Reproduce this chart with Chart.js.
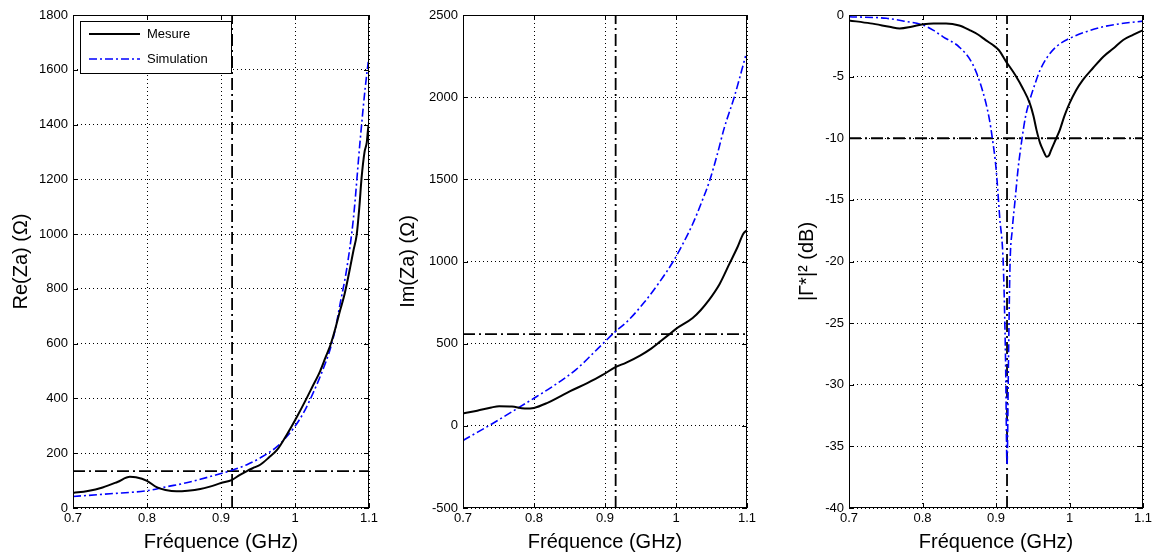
<!DOCTYPE html>
<html>
<head>
<meta charset="utf-8">
<script src="https://cdn.jsdelivr.net/npm/chart.js@4"></script>
<style>
  html, body { margin: 0; padding: 0; background: #fff; }
  #wrap { position: relative; width: 1157px; height: 558px; overflow: hidden; }
  .panel { position: absolute; top: 0; }
</style>
</head>
<body>
<div id="wrap">
  <canvas id="c-re"    class="panel" style="left:0px"   width="390" height="558"></canvas>
  <canvas id="c-im"    class="panel" style="left:390px" width="380" height="558"></canvas>
  <canvas id="c-gamma" class="panel" style="left:770px" width="387" height="558"></canvas>
</div>
<script>
'use strict';

// ── Data ───────────────────────────────────────────────────────────────────
const FREQ_TICKS  = [0.7, 0.8, 0.9, 1.0, 1.1];
const RE_TICKS    = [0, 200, 400, 600, 800, 1000, 1200, 1400, 1600, 1800];
const IM_TICKS    = [-500, 0, 500, 1000, 1500, 2000, 2500];
const GAMMA_TICKS = [-40, -35, -30, -25, -20, -15, -10, -5, 0];

const MARK_FREQ  = 0.915;   // vertical dash-dot line (GHz)
const RE_MARK    = 135;     // horizontal dash-dot lines
const IM_MARK    = 558;
const GAMMA_MARK = -10;

const SERIES_LABELS = ['Mesure', 'Simulation'];

// Re(Za) — mesure
const reMesFreq = [0.70, 0.72, 0.74, 0.76, 0.777, 0.785, 0.80, 0.813, 0.825, 0.84, 0.855, 0.872,
                   0.885, 0.90, 0.915, 0.925, 0.935, 0.945, 0.953, 0.965, 0.976, 0.985, 0.994,
                   1.003, 1.012, 1.023, 1.034, 1.041, 1.048, 1.055, 1.061, 1.066, 1.070, 1.075,
                   1.079, 1.0835, 1.087, 1.09, 1.094, 1.097, 1.099, 1.10];
const reMesVal  = [55, 62, 75, 95, 114, 112, 99, 76, 66, 61, 63, 69,
                   78, 91, 103, 120, 135, 148, 158, 185, 213, 250, 291,
                   335, 381, 440, 500, 548, 596, 660, 722, 770, 818, 885,
                   940, 1000, 1100, 1206, 1300, 1335, 1390, 1400];
// Re(Za) — simulation
const reSimFreq = [0.70, 0.75, 0.80, 0.827, 0.85, 0.872, 0.90, 0.915, 0.935, 0.953, 0.976, 0.998,
                   1.012, 1.025, 1.037, 1.048, 1.055, 1.061, 1.070, 1.079, 1.088, 1.095, 1.099];
const reSimVal  = [42, 52, 63, 78, 90, 105, 126, 138, 158, 183, 225, 291,
                   350, 423, 500, 584, 660, 746, 875, 1059, 1341, 1537, 1629];

// Im(Za) — mesure
const imMesFreq = [0.70, 0.72, 0.74, 0.751, 0.769, 0.787, 0.80, 0.819, 0.835, 0.851, 0.875, 0.896,
                   0.914, 0.93, 0.95, 0.965, 0.978, 0.99, 1.0, 1.0235, 1.035, 1.0455, 1.0613,
                   1.075, 1.0864, 1.095, 1.10];
const imMesVal  = [75, 92, 112, 119, 117, 105, 109, 140, 175, 211, 260, 308,
                   356, 385, 429, 470, 514, 555, 590, 656, 705, 760, 862,
                   984, 1085, 1170, 1190];
// Im(Za) — simulation
const imSimFreq = [0.70, 0.72, 0.74, 0.76, 0.78, 0.80, 0.82, 0.84, 0.86, 0.886, 0.913, 0.932,
                   0.955, 0.976, 0.996, 1.01, 1.0235, 1.036, 1.048, 1.058, 1.068, 1.082, 1.098];
const imSimVal  = [-89, -40, 10, 62, 115, 168, 222, 280, 345, 453, 567, 638,
                   750, 870, 1000, 1110, 1228, 1360, 1500, 1650, 1813, 2000, 2250];

// |Γ*|² — mesure
const gaMesFreq = [0.70, 0.729, 0.755, 0.769, 0.785, 0.801, 0.815, 0.832, 0.85, 0.864, 0.876, 0.886,
                   0.895, 0.904, 0.914, 0.921, 0.927, 0.936, 0.946, 0.951, 0.955, 0.96, 0.964,
                   0.969, 0.972, 0.975, 0.982, 0.987, 0.993, 1.0, 1.009, 1.018, 1.032, 1.046,
                   1.06, 1.073, 1.087, 1.10];
const gaMesVal  = [-0.44, -0.68, -0.95, -1.09, -0.95, -0.75, -0.68, -0.68, -0.85, -1.22, -1.6, -2.04,
                   -2.4, -2.86, -3.8, -4.4, -4.95, -5.9, -7.17, -8.2, -9.3, -10.4, -10.96,
                   -11.5, -11.4, -10.96, -10.0, -9.3, -8.2, -7.17, -6.1, -5.28, -4.3, -3.38,
                   -2.7, -2.03, -1.6, -1.22];
// |Γ*|² — simulation
const gaSimFreq = [0.70, 0.751, 0.775, 0.801, 0.815, 0.828, 0.85, 0.868, 0.8815, 0.8905, 0.895, 0.90,
                   0.905, 0.91, 0.913, 0.915, 0.917, 0.919, 0.922, 0.926, 0.93, 0.935, 0.94,
                   0.946, 0.953, 0.96, 0.97, 0.982, 1.0, 1.023, 1.046, 1.07, 1.10];
const gaSimVal  = [-0.14, -0.27, -0.5, -0.82, -1.25, -1.77, -2.6, -3.96, -6.1, -8.3, -10.0, -12.4,
                   -16.4, -20.4, -28, -36.5, -28, -20.4, -17.5, -15, -12.5, -10.2, -8.3,
                   -6.9, -5.6, -4.47, -3.4, -2.57, -1.9, -1.35, -0.95, -0.7, -0.5];

// ── Helpers ────────────────────────────────────────────────────────────────
const FONT = "'Liberation Sans', Arial, Helvetica, sans-serif";
Chart.defaults.font.family = FONT;
Chart.defaults.color = '#000';

const DASH_DOT  = [8, 3, 2, 3];
const MARK_DASH = [12, 4, 2, 4];

function pts(freq, vals) { return freq.map((f, i) => ({ x: f, y: vals[i] })); }

function fmtTick(v) { return String(+v.toFixed(1)); }

// frame + small inward ticks, like the original plotting tool
const frameAxes = {
  id: 'frameAxes',
  afterDatasetsDraw(chart) {
    const { ctx, chartArea: a, scales: { x, y } } = chart;
    ctx.save();
    ctx.strokeStyle = '#000';
    ctx.lineWidth = 1;
    ctx.setLineDash([]);
    ctx.strokeRect(a.left + 0.5, a.top + 0.5, a.right - a.left - 1, a.bottom - a.top - 1);
    ctx.beginPath();
    y.ticks.forEach(t => {
      const py = Math.round(y.getPixelForValue(t.value)) + 0.5;
      ctx.moveTo(a.left, py);  ctx.lineTo(a.left + 5, py);
      ctx.moveTo(a.right, py); ctx.lineTo(a.right - 5, py);
    });
    x.ticks.forEach(t => {
      const px = Math.round(x.getPixelForValue(t.value)) + 0.5;
      ctx.moveTo(px, a.bottom); ctx.lineTo(px, a.bottom - 5);
      ctx.moveTo(px, a.top);    ctx.lineTo(px, a.top + 5);
    });
    ctx.stroke();
    ctx.restore();
  }
};

// boxed legend inside the first panel
const boxLegend = {
  id: 'boxLegend',
  afterDraw(chart, args, opts) {
    if (!opts.show) return;
    const { ctx, chartArea: a } = chart;
    const x0 = a.left + 7, y0 = a.top + 6, w = 151, h = 52;
    ctx.save();
    ctx.fillStyle = '#fff';
    ctx.fillRect(x0, y0, w, h);
    ctx.strokeStyle = '#000';
    ctx.lineWidth = 1;
    ctx.setLineDash([]);
    ctx.strokeRect(x0 + 0.5, y0 + 0.5, w, h);
    const items = chart.data.datasets.filter(d => d.inLegend);
    items.forEach((d, i) => {
      const ly = y0 + 13 + i * 25;
      ctx.beginPath();
      ctx.strokeStyle = d.borderColor;
      ctx.lineWidth = d.borderWidth;
      ctx.setLineDash(d.borderDash || []);
      ctx.moveTo(x0 + 9, ly);
      ctx.lineTo(x0 + 60, ly);
      ctx.stroke();
      ctx.fillStyle = '#000';
      ctx.font = '13px ' + FONT;
      ctx.textBaseline = 'middle';
      ctx.fillText(d.label, x0 + 67, ly);
    });
    ctx.restore();
  }
};

function makePanel(id, cfg) {
  const yMin = cfg.yTicks[0], yMax = cfg.yTicks[cfg.yTicks.length - 1];
  const xMin = FREQ_TICKS[0], xMax = FREQ_TICKS[FREQ_TICKS.length - 1];
  return new Chart(document.getElementById(id), {
    type: 'line',
    data: {
      datasets: [
        {
          label: SERIES_LABELS[0], inLegend: true,
          data: pts(cfg.mesFreq, cfg.mesVal),
          borderColor: '#000', borderWidth: 2, cubicInterpolationMode: 'monotone'
        },
        {
          label: SERIES_LABELS[1], inLegend: true,
          data: pts(cfg.simFreq, cfg.simVal),
          borderColor: '#0000ff', borderWidth: 1.6, borderDash: DASH_DOT,
          cubicInterpolationMode: 'monotone'
        },
        {
          label: 'mark-h',
          data: [{ x: xMin, y: cfg.mark }, { x: xMax, y: cfg.mark }],
          borderColor: '#000', borderWidth: 1.8, borderDash: MARK_DASH
        },
        {
          label: 'mark-v',
          data: [{ x: MARK_FREQ, y: yMin }, { x: MARK_FREQ, y: yMax }],
          borderColor: '#000', borderWidth: 1.8, borderDash: MARK_DASH
        }
      ]
    },
    options: {
      responsive: false,
      animation: false,
      events: [],
      elements: { point: { radius: 0 }, line: { fill: false } },
      layout: { padding: { left: 0, top: 15, right: cfg.padRight, bottom: 0 } },
      plugins: {
        legend: { display: false },
        tooltip: { enabled: false },
        boxLegend: { show: !!cfg.legend }
      },
      scales: {
        x: {
          type: 'linear', min: xMin, max: xMax,
          afterBuildTicks: s => { s.ticks = FREQ_TICKS.map(v => ({ value: v })); },
          afterFit: s => { s.height = 50; },
          ticks: { font: { size: 13 }, padding: 3, maxRotation: 0, callback: fmtTick },
          grid: { color: '#000', lineWidth: 1, drawTicks: false },
          border: { display: false, dash: [1, 3] },
          title: { display: true, text: 'Fréquence (GHz)', font: { size: 20 }, padding: { top: 0, bottom: 4 } }
        },
        y: {
          type: 'linear', min: yMin, max: yMax,
          afterBuildTicks: s => { s.ticks = cfg.yTicks.map(v => ({ value: v })); },
          afterFit: s => { s.width = cfg.yWidth; },
          ticks: { font: { size: 13 }, padding: 5, callback: v => String(v) },
          grid: { color: '#000', lineWidth: 1, drawTicks: false },
          border: { display: false, dash: [1, 3] },
          title: { display: true, text: cfg.yTitle, font: { size: 20 }, padding: { top: cfg.yTitlePad, bottom: 0 } }
        }
      }
    },
    plugins: [frameAxes, boxLegend]
  });
}

// ── Initialise ─────────────────────────────────────────────────────────────
makePanel('c-re', {
  yTicks: RE_TICKS, yTitle: 'Re(Za) (Ω)', mark: RE_MARK,
  mesFreq: reMesFreq, mesVal: reMesVal, simFreq: reSimFreq, simVal: reSimVal,
  yWidth: 73, yTitlePad: 9, padRight: 21, legend: true
});
makePanel('c-im', {
  yTicks: IM_TICKS, yTitle: 'Im(Za) (Ω)', mark: IM_MARK,
  mesFreq: imMesFreq, mesVal: imMesVal, simFreq: imSimFreq, simVal: imSimVal,
  yWidth: 73, yTitlePad: 6, padRight: 23
});
makePanel('c-gamma', {
  yTicks: GAMMA_TICKS, yTitle: '|Γ*|² (dB)', mark: GAMMA_MARK,
  mesFreq: gaMesFreq, mesVal: gaMesVal, simFreq: gaSimFreq, simVal: gaSimVal,
  yWidth: 79, yTitlePad: 25, padRight: 14
});
</script>
</body>
</html>
